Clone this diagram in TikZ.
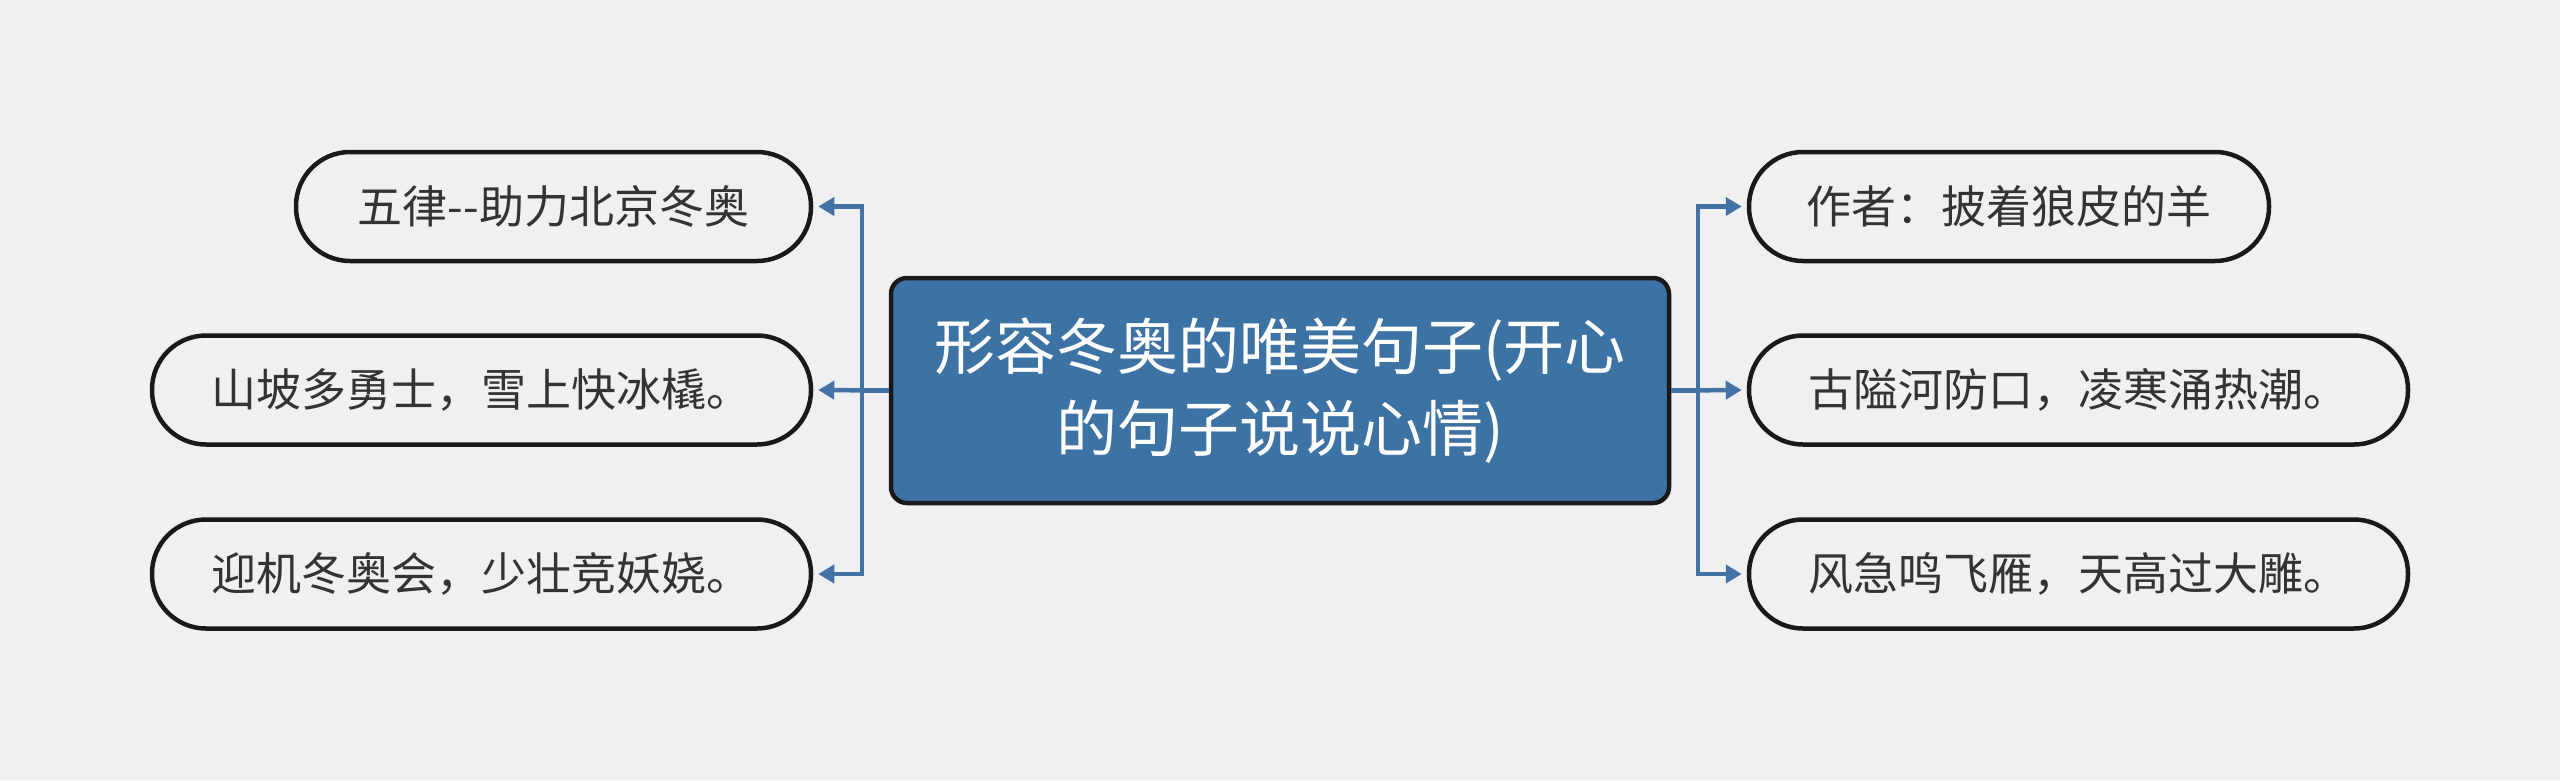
\documentclass[tikz,border=0pt]{standalone}
\usepackage{fontspec}
\newfontfamily\cjk{Noto Sans CJK SC}
\usetikzlibrary{arrows.meta}
\definecolor{bg}{HTML}{F0F0F0}
\definecolor{mainblue}{HTML}{3D72A4}
\definecolor{linkblue}{HTML}{4472A4}
\definecolor{txt}{HTML}{333333}
\begin{document}
\begin{tikzpicture}[x=1pt,y=-1pt,
  leaf/.style={draw=black!90, line width=4.5pt, fill=bg, rounded corners=54pt,
    minimum height=109pt, inner sep=0pt, text=txt,
    font=\cjk\fontsize{45}{52}\selectfont},
  mainbox/.style={draw=black!90, line width=4.5pt, fill=mainblue, rounded corners=16pt,
    minimum width=778pt, minimum height=225pt, inner sep=0pt, text=white, align=center,
    font=\cjk\fontsize{61}{82}\selectfont},
  conn/.style={draw=linkblue, line width=4.5pt, -{Triangle[length=16pt,width=18pt]}, shorten >=5pt}]
\fill[bg] (0,0) rectangle (2560,780);
\useasboundingbox (0,0) rectangle (2560,780);

\node[mainbox] (c) at (1280,390.5) {形容冬奥的唯美句子(开心\\的句子说说心情)};

\node[leaf, minimum width=515pt] (l1) at (553.5,206.5) {五律--助力北京冬奥};
\node[leaf, minimum width=659pt] (l2) at (481.5,390) {山坡多勇士，雪上快冰橇。};
\node[leaf, minimum width=659pt] (l3) at (481.5,574) {迎机冬奥会，少壮竞妖娆。};

\node[leaf, minimum width=520pt] (r1) at (2009,206.5) {作者：披着狼皮的羊};
\node[leaf, minimum width=659pt] (r2) at (2078.5,390) {古隘河防口，凌寒涌热潮。};
\node[leaf, minimum width=659pt] (r3) at (2078.5,574) {风急鸣飞雁，天高过大雕。};

\coordinate (tl) at (862,390.5);
\coordinate (tr) at (1698,390.5);

\draw[conn] (c.west) -- (tl) |- (l1.east);
\draw[conn] (c.west) -- (l2.east);
\draw[conn] (c.west) -- (tl) |- (l3.east);

\draw[conn] (c.east) -- (tr) |- (r1.west);
\draw[conn] (c.east) -- (r2.west);
\draw[conn] (c.east) -- (tr) |- (r3.west);
\end{tikzpicture}
\end{document}
